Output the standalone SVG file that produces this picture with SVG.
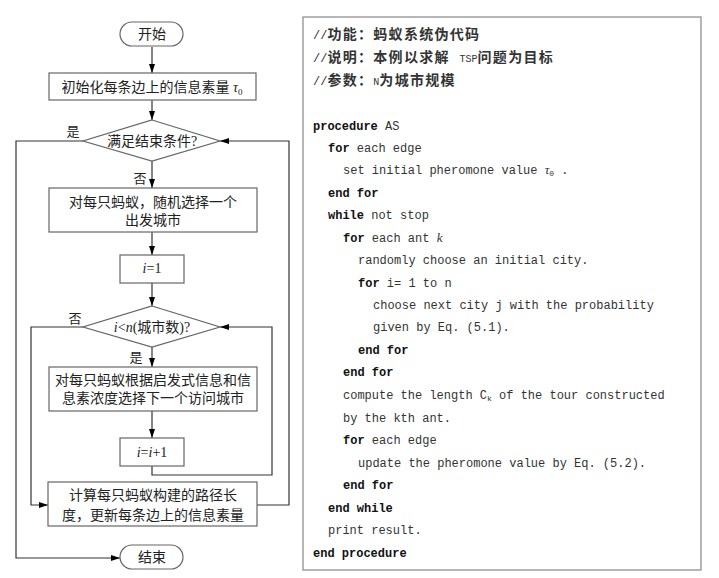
<svg xmlns="http://www.w3.org/2000/svg" width="719" height="578" viewBox="0 0 719 578">
<defs>
<marker id="arr" markerUnits="userSpaceOnUse" markerWidth="9" markerHeight="6" refX="9" refY="3" orient="auto">
<path d="M0,0 L9,3 L0,6 z" fill="#000"/>
</marker>
<style>
.box{fill:#fff;stroke:#666;stroke-width:1.2}
.ln{fill:none;stroke:#333;stroke-width:1.2}
.ar{fill:none;stroke:#333;stroke-width:1.2;marker-end:url(#arr)}
.ft{font-family:"Liberation Serif","Noto Sans CJK SC",serif;font-size:14px;fill:#222;text-anchor:middle}
.lb{font-family:"Liberation Serif","Noto Sans CJK SC",serif;font-size:13px;fill:#222;text-anchor:middle}
.it{font-style:italic}
.cd{font-family:"Liberation Mono",monospace;font-size:12px;fill:#333;white-space:pre}
.kw{font-weight:bold;fill:#111}
.cm{font-family:"Liberation Mono","Noto Sans CJK SC",monospace;font-size:14px;fill:#333;font-weight:bold;letter-spacing:1.3px}
.cm .m{font-size:12px;font-weight:normal;letter-spacing:0}
.cm .s{font-size:10px;font-weight:normal;letter-spacing:0}
</style>
</defs>
<rect width="719" height="578" fill="#fff"/>

<g id="connectors">
<path class="ar" d="M152,47 V73"/>
<path class="ar" d="M152,100 V120"/>
<path class="ar" d="M152,161 V188"/>
<path class="ar" d="M152,232 V255"/>
<path class="ar" d="M152,283 V306"/>
<path class="ar" d="M152,347 V367"/>
<path class="ar" d="M152,411 V438"/>
<path class="ar" d="M152,466 V475 H272 V327 H220"/>
<path class="ar" d="M83,327 H31 V505 H48"/>
<path class="ar" d="M257,505 H289 V141 H220"/>
<path class="ar" d="M83,141 H16 V558 H120"/>
</g>

<g id="label-yes1"><text class="lb" x="73" y="136">是</text></g>
<g id="label-no1"><text class="lb" x="140" y="183">否</text></g>
<g id="label-no2"><text class="lb" x="75" y="323">否</text></g>
<g id="label-yes2"><text class="lb" x="136" y="362">是</text></g>

<g id="start">
<rect class="box" x="120" y="22" width="63" height="24" rx="12"/>
<text class="ft" x="152" y="39">开始</text>
</g>
<g id="init">
<rect class="box" x="49" y="73" width="207" height="27"/>
<text class="ft" x="152" y="92">初始化每条边上的信息素量 <tspan class="it">τ</tspan><tspan font-size="9" dy="3">0</tspan></text>
</g>
<g id="cond1">
<polygon class="box" points="152,120 220,141 152,161 83,141"/>
<text class="ft" x="152" y="146">满足结束条件?</text>
</g>
<g id="choose-start">
<rect class="box" x="49" y="188" width="208" height="44"/>
<text class="ft" x="153" y="207">对每只蚂蚁，随机选择一个</text>
<text class="ft" x="153" y="225">出发城市</text>
</g>
<g id="i-init">
<rect class="box" x="120" y="255" width="64" height="28"/>
<text class="ft" x="152" y="273"><tspan class="it">i</tspan>=1</text>
</g>
<g id="cond2">
<polygon class="box" points="152,306 220,327 152,347 83,327"/>
<text class="ft" x="152" y="332"><tspan class="it">i</tspan>&lt;<tspan class="it">n</tspan>(城市数)?</text>
</g>
<g id="choose-next">
<rect class="box" x="49" y="367" width="208" height="44"/>
<text class="ft" x="153" y="385">对每只蚂蚁根据启发式信息和信</text>
<text class="ft" x="153" y="403">息素浓度选择下一个访问城市</text>
</g>
<g id="i-inc">
<rect class="box" x="120" y="438" width="64" height="28"/>
<text class="ft" x="152" y="457"><tspan class="it">i</tspan>=<tspan class="it">i</tspan>+1</text>
</g>
<g id="update">
<rect class="box" x="48" y="482" width="209" height="44"/>
<text class="ft" x="153" y="500">计算每只蚂蚁构建的路径长</text>
<text class="ft" x="153" y="520">度，更新每条边上的信息素量</text>
</g>
<g id="end">
<rect class="box" x="120" y="545" width="63" height="24" rx="12"/>
<text class="ft" x="152" y="562">结束</text>
</g>

<g id="code">
<rect x="303" y="17" width="398" height="553" fill="#fff" stroke="#888" stroke-width="1.2"/>
<text class="cm" x="313" y="39"><tspan class="m">//</tspan>功能：蚂蚁系统伪代码</text>
<text class="cm" x="313" y="62"><tspan class="m">//</tspan>说明：本例以求解 <tspan class="s">TSP</tspan>问题为目标</text>
<text class="cm" x="313" y="85"><tspan class="m">//</tspan>参数：<tspan class="s">N</tspan>为城市规模</text>
<text class="cd" x="313" y="130"><tspan class="kw">procedure</tspan> AS</text>
<text class="cd" x="328" y="152"><tspan class="kw">for</tspan> each edge</text>
<text class="cd" x="343" y="174">set initial pheromone value <tspan class="it" font-family="Liberation Serif" font-size="13">τ</tspan><tspan font-size="8" dy="2">0</tspan><tspan dy="-2"> .</tspan></text>
<text class="cd kw" x="328" y="197">end for</text>
<text class="cd" x="328" y="219"><tspan class="kw">while</tspan> not stop</text>
<text class="cd" x="343" y="242"><tspan class="kw">for</tspan> each ant <tspan class="it" font-family="Liberation Serif" font-size="13">k</tspan></text>
<text class="cd" x="358" y="264">randomly choose an initial city.</text>
<text class="cd" x="358" y="287"><tspan class="kw">for</tspan> i= 1 to n</text>
<text class="cd" x="373" y="309">choose next city j with the probability</text>
<text class="cd" x="373" y="331">given by Eq. (5.1).</text>
<text class="cd kw" x="358" y="354">end for</text>
<text class="cd kw" x="343" y="376">end for</text>
<text class="cd" x="343" y="399">compute the length C<tspan font-size="8" dy="2">k</tspan><tspan dy="-2"> of the tour constructed</tspan></text>
<text class="cd" x="343" y="422">by the kth ant.</text>
<text class="cd" x="343" y="444"><tspan class="kw">for</tspan> each edge</text>
<text class="cd" x="358" y="467">update the pheromone value by Eq. (5.2).</text>
<text class="cd kw" x="343" y="489">end for</text>
<text class="cd kw" x="328" y="512">end while</text>
<text class="cd" x="328" y="534">print result.</text>
<text class="cd kw" x="313" y="557">end procedure</text>
</g>
</svg>
